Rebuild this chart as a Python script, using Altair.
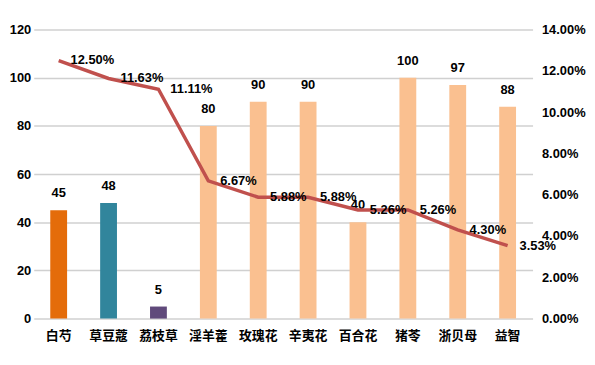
import altair as alt
import pandas as pd

categories = ["白芍", "草豆蔻", "荔枝草", "淫羊藿", "玫瑰花", "辛夷花", "百合花", "猪苓", "浙贝母", "益智"]
counts = [45, 48, 5, 80, 90, 90, 40, 100, 97, 88]
shares = [0.1250, 0.1163, 0.1111, 0.0667, 0.0588, 0.0588, 0.0526, 0.0526, 0.0430, 0.0353]
bar_colors = ["#E46C0A", "#31859C", "#604A7B", "#FAC090", "#FAC090", "#FAC090",
              "#FAC090", "#FAC090", "#FAC090", "#FAC090"]

df = pd.DataFrame({"cat": categories, "count": counts, "share": shares})

num_font = "Liberation Sans"
cjk_font = "Noto Sans CJK SC"

x = alt.X("cat:N", sort=None, title=None,
          scale=alt.Scale(paddingInner=0, paddingOuter=0),
          axis=alt.Axis(labelAngle=0, labelFont=cjk_font, labelFontSize=13,
                        labelFontWeight="bold", labelColor="#000000",
                        labelPadding=11, domain=False, ticks=False, grid=False))

y_left = alt.Y("count:Q", title=None,
               scale=alt.Scale(domain=[0, 120]),
               axis=alt.Axis(orient="left", values=[0, 20, 40, 60, 80, 100, 120],
                             labelFont=num_font, labelFontSize=13, labelFontWeight="bold",
                             labelColor="#000000", labelPadding=3, domain=False,
                             ticks=False, grid=True, gridColor="#D0D0D0", gridWidth=1.5,
                             gridOpacity=1))

y_right = alt.Y("share:Q", title=None,
                scale=alt.Scale(domain=[0, 0.14]),
                axis=alt.Axis(orient="right", values=[0, 0.02, 0.04, 0.06, 0.08, 0.10, 0.12, 0.14],
                              format=".2%", labelFont=num_font, labelFontSize=13,
                              labelFontWeight="bold", labelColor="#000000",
                              labelPadding=9, domain=False, ticks=False, grid=False))

base = alt.Chart(df)

bars = base.mark_bar(size=17).encode(
    x=x, y=y_left,
    color=alt.Color("cat:N", sort=None, legend=None,
                    scale=alt.Scale(domain=categories, range=bar_colors)))

bar_text = base.mark_text(font=num_font, fontSize=13, fontWeight="bold",
                          color="#000000", baseline="middle", dy=-17).encode(
    x=x, y=y_left, text=alt.Text("count:Q"))

line = base.mark_line(color="#C0504D", strokeWidth=3.5).encode(x=x, y=y_right)

line_text = base.mark_text(font=num_font, fontSize=13, fontWeight="bold",
                           color="#000000", align="left", baseline="middle", dx=12).encode(
    x=x, y=y_right, text=alt.Text("share:Q", format=".2%"))

left_layer = alt.layer(bars, bar_text)
right_layer = alt.layer(line, line_text)

chart = alt.layer(left_layer, right_layer).resolve_scale(y="independent").properties(
    width=504, height=292,
    background="#FFFFFF",
    autosize=alt.AutoSizeParams(type="none"),
    padding={"left": 26, "top": 20, "right": 55, "bottom": 35},
).configure_view(stroke=None)

chart.save("out.html", embed_options={"renderer": "svg", "actions": False})
